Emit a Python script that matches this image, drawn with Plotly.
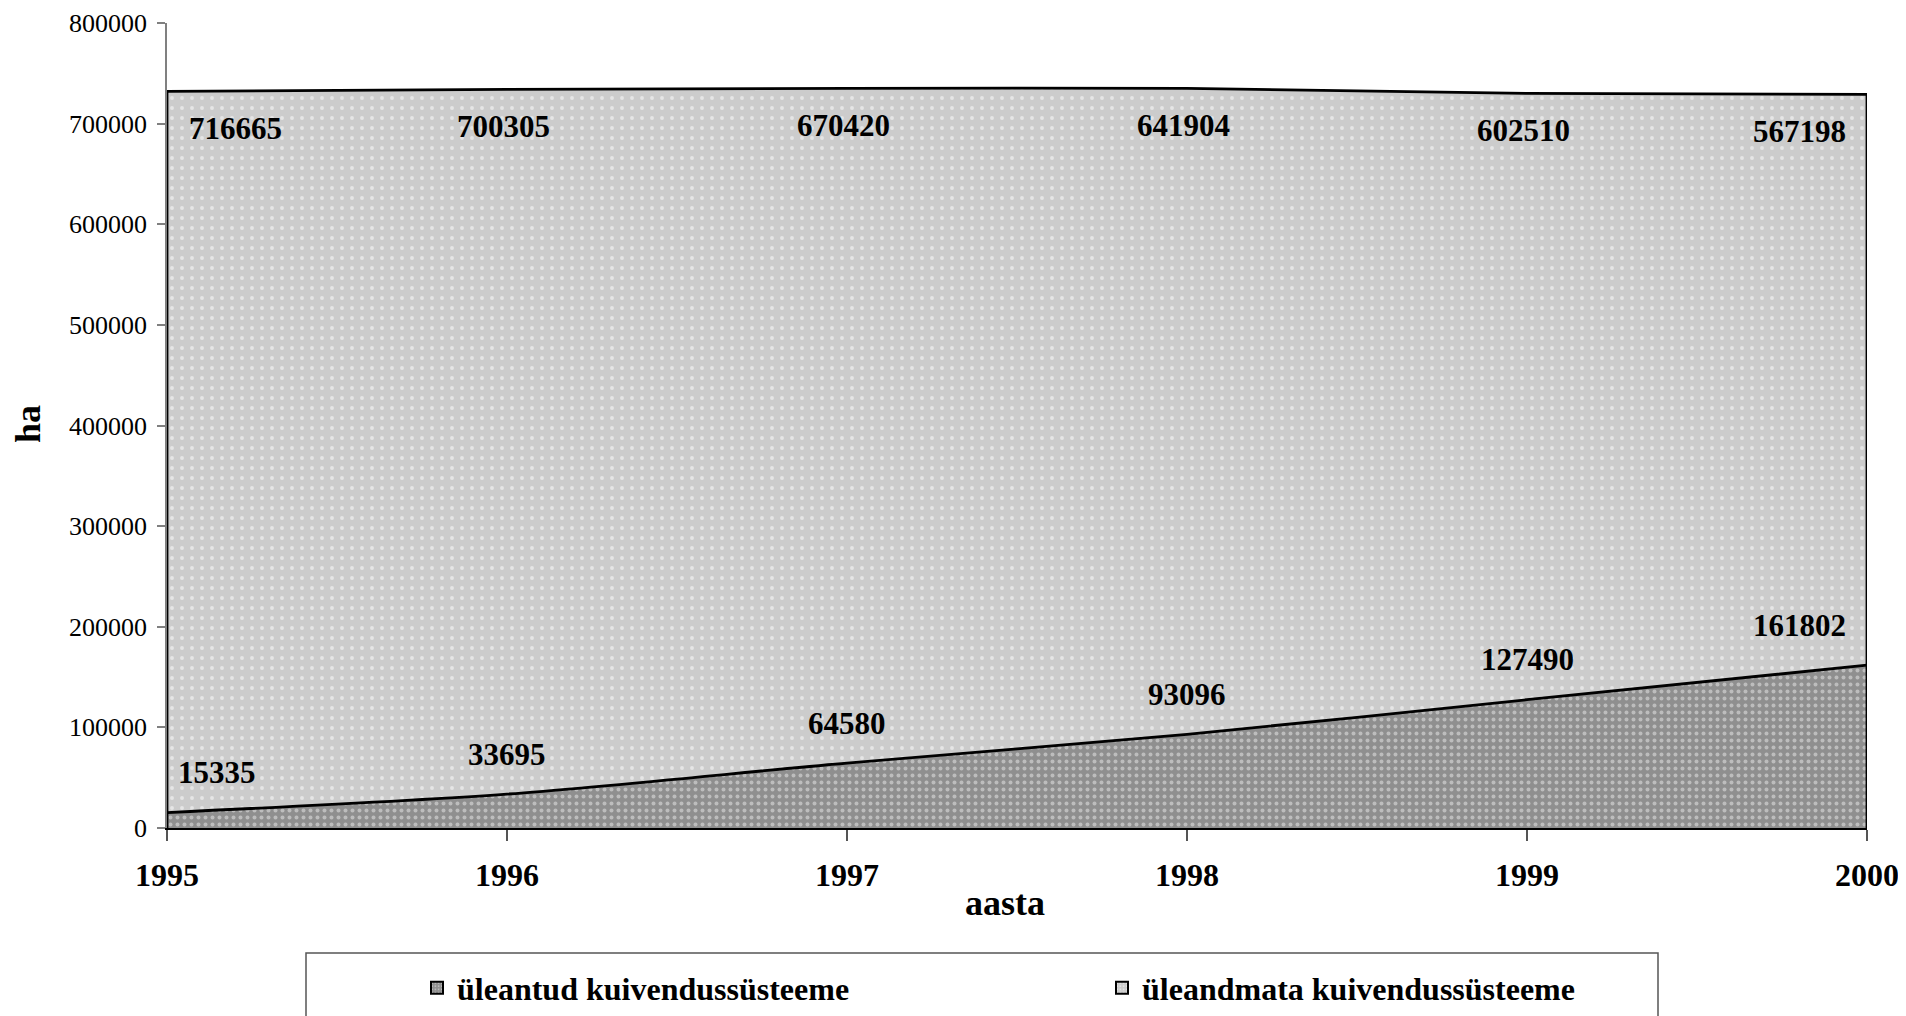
import plotly.graph_objects as go

years = [1995, 1996, 1997, 1998, 1999, 2000]
uleantud = [15335, 33695, 64580, 93096, 127490, 161802]
uleandmata = [716665, 700305, 670420, 641904, 602510, 567198]
series_names = ["üleantud kuivendussüsteeme", "üleandmata kuivendussüsteeme"]
y_ticks = [0, 100000, 200000, 300000, 400000, 500000, 600000, 700000, 800000]

totals = [a + b for a, b in zip(uleantud, uleandmata)]

# page has an 8px body margin; figure sized to fit the 1906x1016 window
OFF = 8
W, H = 1906 - OFF, 1016 - OFF
ML, MR, MT, MB = 167 - OFF, 39, 23 - OFF, 188
PW = W - ML - MR
PH = H - MT - MB
PLOT_LEFT = OFF + ML
PLOT_BOTTOM = OFF + H - MB

def px_x(px):
    return (px - PLOT_LEFT) / PW

def px_y(py):
    return (PLOT_BOTTOM - py) / PH

FONT = "Liberation Serif, Times New Roman, serif"
LW = 2.8

pat_low = dict(shape=".", bgcolor="#8f8f8f", fgcolor="#ececec", size=7, solidity=0.25)
pat_high = dict(shape=".", bgcolor="#cccccc", fgcolor="#ffffff", size=10, solidity=0.12)

fig = go.Figure()

fig.add_trace(go.Scatter(
    x=years, y=uleantud, name=series_names[0], stackgroup="one",
    mode="lines", line=dict(color="black", width=LW, shape="spline", smoothing=0.8),
    fillpattern=pat_low, showlegend=False, hoverinfo="x+y",
))
fig.add_trace(go.Scatter(
    x=years, y=uleandmata, name=series_names[1], stackgroup="one",
    mode="lines", line=dict(color="black", width=LW, shape="spline", smoothing=0.8),
    fillpattern=pat_high, showlegend=False, hoverinfo="x+y",
))

# vertical edges of the area
for i in (0, len(years) - 1):
    fig.add_trace(go.Scatter(
        x=[years[i], years[i]], y=[0, totals[i]], mode="lines",
        line=dict(color="black", width=LW), showlegend=False, hoverinfo="skip",
    ))

# legend entries (square swatches)
for name, pat in zip(series_names, (pat_low, pat_high)):
    fig.add_trace(go.Bar(
        x=[None], y=[None], name=name, showlegend=True, hoverinfo="skip",
        marker=dict(color=pat["bgcolor"], pattern=dict(
            shape=pat["shape"], bgcolor=pat["bgcolor"], fgcolor=pat["fgcolor"],
            size=4, solidity=0.25),
            line=dict(color="black", width=2)),
    ))

annotations = []
lab_font = dict(family=FONT, size=31, color="black", weight="bold")
n = len(years)
for i, yr in enumerate(years):
    if i == 0:
        xa, xs = "left", 20
    elif i == n - 1:
        xa, xs = "right", -19
    else:
        xa, xs = "center", -4
    annotations.append(dict(
        x=yr, y=totals[i], xref="x", yref="y", text=str(uleandmata[i]),
        showarrow=False, xanchor=xa, xshift=xs, yanchor="middle", yshift=-37,
        font=lab_font,
    ))
    if i == 0:
        xa2, xs2 = "left", 9
    elif i == n - 1:
        xa2, xs2 = "right", -19
    else:
        xa2, xs2 = "center", 0
    annotations.append(dict(
        x=yr, y=uleantud[i], xref="x", yref="y", text=str(uleantud[i]),
        showarrow=False, xanchor=xa2, xshift=xs2, yanchor="middle", yshift=40,
        font=lab_font,
    ))

annotations.append(dict(
    x=px_x(1005), y=px_y(903), xref="paper", yref="paper", text="<b>aasta</b>",
    showarrow=False, xanchor="center", yanchor="middle",
    font=dict(family=FONT, size=36, color="black"),
))
annotations.append(dict(
    x=px_x(28), y=px_y(424), xref="paper", yref="paper", text="<b>ha</b>",
    showarrow=False, xanchor="center", yanchor="middle", textangle=-90,
    font=dict(family=FONT, size=36, color="black"),
))

fig.update_layout(
    width=W, height=H,
    margin=dict(l=ML, r=MR, t=MT, b=MB, autoexpand=False),
    paper_bgcolor="white", plot_bgcolor="white",
    showlegend=True,
    legend=dict(
        orientation="h", x=px_x(417), xanchor="left", y=px_y(988), yanchor="middle",
        font=dict(family=FONT, size=32, color="black", weight="bold"),
        bgcolor="rgba(0,0,0,0)", borderwidth=0, traceorder="normal",
        entrywidth=640, entrywidthmode="pixels", itemwidth=30,
    ),
    annotations=annotations,
    shapes=[dict(
        type="rect", xref="paper", yref="paper",
        x0=px_x(306), x1=px_x(1658), y0=px_y(953), y1=px_y(1040),
        line=dict(color="#555555", width=1.5), fillcolor="rgba(0,0,0,0)", layer="below",
    )],
    xaxis=dict(
        range=[years[0], years[-1]], tickmode="array", tickvals=years,
        ticktext=[f"<b>{y}</b>" for y in years],
        showline=True, linecolor="black", linewidth=2,
        ticks="outside", ticklen=11, tickwidth=1.5, tickcolor="#555555",
        showgrid=False, zeroline=False,
        tickfont=dict(family=FONT, size=32, color="black"),
        ticklabelstandoff=7, layer="below traces",
    ),
    yaxis=dict(
        range=[0, 800000], tickmode="array", tickvals=y_ticks,
        ticktext=[str(v) for v in y_ticks],
        showline=True, linecolor="#808080", linewidth=1.5,
        ticks="outside", ticklen=8, tickwidth=1.5, tickcolor="#808080",
        showgrid=False, zeroline=False,
        tickfont=dict(family=FONT, size=26, color="black"),
        ticklabelstandoff=5, layer="below traces",
    ),
)

fig.write_html("out.html")
